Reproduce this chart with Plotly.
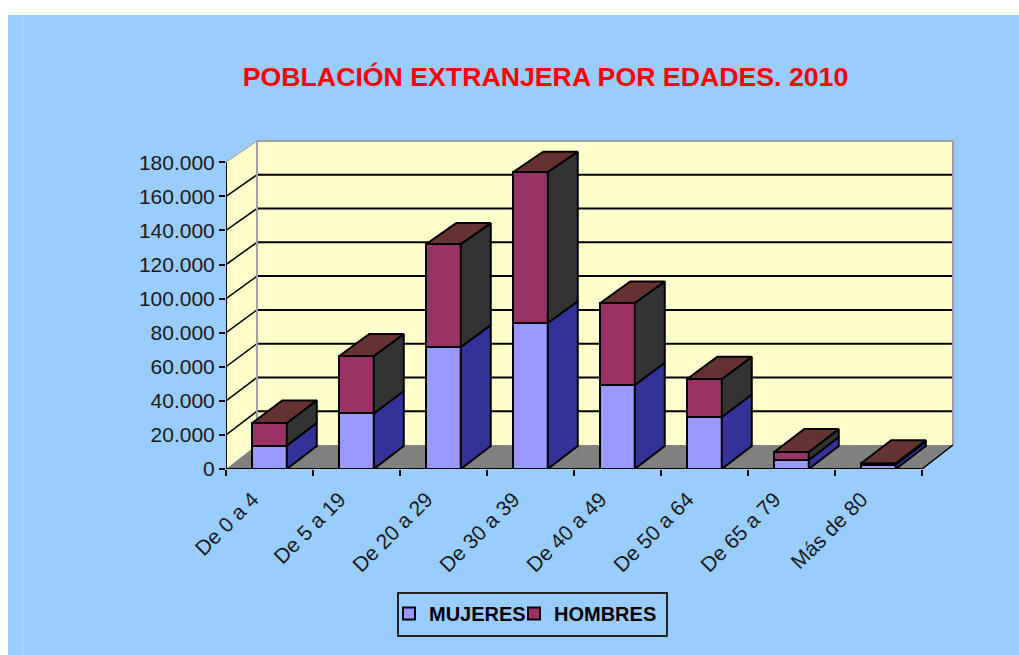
import plotly.graph_objects as go

categories = ["De 0 a 4", "De 5 a 19", "De 20 a 29", "De 30 a 39", "De 40 a 49", "De 50 a 64", "De 65 a 79", "Más de 80"]
mujeres = [13700, 32600, 71600, 85700, 49300, 30500, 5300, 2600]
hombres = [13300, 33700, 60400, 88600, 48100, 22300, 4700, 800]
y_ticks = [0, 20000, 40000, 60000, 80000, 100000, 120000, 140000, 160000, 180000]

W, H = 1019, 655
L, R, T, B = 226, 960, 130, 469
PX_X = 87.0
PX_Y = (469 - 162.3) / 180000
BACK = 304 / 306.7            # the back plane is drawn slightly smaller than the front one
wall_dx = 31 / PX_X
wall_dy = 24 / PX_Y
bar_dx = 30 / PX_X
bar_dy = 23 / PX_Y
bar_w = 34.5 / PX_X
n = len(categories)
xc = [i + 0.5 for i in range(n)]
x_max = (R - L) / PX_X
y_max = (B - T) / PX_Y
px = lambda v: (v - L) / (R - L)
py = lambda v: (B - v) / (B - T)

shapes = []
def poly(pts, fill, color="rgba(0,0,0,0)", width=0):
    d = "M " + " L ".join(f"{a},{b}" for a, b in pts) + " Z"
    shapes.append(dict(type="path", path=d, xref="x", yref="y", fillcolor=fill, layer="below",
                       line=dict(color=color, width=width)))
def seg(x0, y0, x1, y1, color="black", width=2):
    shapes.append(dict(type="line", x0=x0, y0=y0, x1=x1, y1=y1, xref="x", yref="y", layer="below",
                       line=dict(color=color, width=width)))

# page background
shapes.append(dict(type="rect", xref="paper", yref="paper", x0=px(8), x1=px(W + 2), y0=py(H + 2), y1=py(15),
                   fillcolor="#99CCFF", line_width=0, layer="below"))
shapes.append(dict(type="line", xref="paper", yref="paper", x0=px(23.5), x1=px(23.5), y0=py(H), y1=py(15),
                   line=dict(color="#A6D2FF", width=1), layer="below"))
top = y_ticks[-1]
back_y = lambda v: v * BACK + wall_dy
# walls and floor
poly([(wall_dx, wall_dy), (wall_dx + n, wall_dy), (wall_dx + n, back_y(top)), (wall_dx, back_y(top))], "#FFFFCC")
poly([(0, 0), (wall_dx, wall_dy), (wall_dx, back_y(top)), (0, top)], "#FFFFCC")
poly([(0, 0), (wall_dx, wall_dy), (wall_dx + n, wall_dy), (n, 0)], "#808080")
# grid
for t in y_ticks[1:-1]:
    seg(0, t, wall_dx, back_y(t), "black", 1.5)
    seg(wall_dx, back_y(t), wall_dx + n, back_y(t))
# wall borders
seg(wall_dx, wall_dy, wall_dx, back_y(top), "#A0A0A0", 2)
seg(wall_dx + n, wall_dy, wall_dx + n, back_y(top), "#A0A0A0", 2)
seg(wall_dx, back_y(top), wall_dx + n, back_y(top), "#A0A0A0", 2)
seg(0, top, wall_dx, back_y(top), "#A0A0A0", 1)
# front axes
seg(0, 0, 0, top, "black", 2)
seg(0, 0, n, 0, "black", 2)
seg(n, 0, wall_dx + n, wall_dy, "black", 1.5)
# legend frame
shapes.append(dict(type="rect", xref="paper", yref="paper", x0=px(398), x1=px(667), y0=py(636), y1=py(593),
                   fillcolor="rgba(0,0,0,0)", line=dict(color="#222222", width=2), layer="below"))

fig = go.Figure()
edge = dict(color="black", width=2)
fig.add_bar(x=xc, y=mujeres, name="MUJERES", width=bar_w, marker=dict(color="#9999FF", line=edge), legend="legend")
fig.add_bar(x=xc, y=hombres, name="HOMBRES", width=bar_w, marker=dict(color="#993366", line=edge), legend="legend2")

def face(xs, ys, fill):
    fig.add_scatter(x=xs, y=ys, mode="lines", fill="toself", fillcolor=fill, showlegend=False, hoverinfo="skip",
                    line=dict(color="black", width=2))

by = lambda v: v * BACK + bar_dy
for x, m, h in zip(xc, mujeres, hombres):
    x0, x1 = x - bar_w / 2, x + bar_w / 2
    face([x1, x1 + bar_dx, x1 + bar_dx, x1, x1], [0, by(0), by(m), m, 0], "#333399")
    face([x1, x1 + bar_dx, x1 + bar_dx, x1, x1], [m, by(m), by(m + h), m + h, m], "#333333")
    t = m + h
    face([x0, x0 + bar_dx, x1 + bar_dx, x1, x0], [t, by(t), by(t), t, t], "#663333")

font = "Liberation Sans, Arial, sans-serif"
legend_common = dict(orientation="h", xanchor="left", yanchor="top", bgcolor="rgba(0,0,0,0)", borderwidth=0,
                     font=dict(size=20, family="Liberation Sans, Arial", weight="bold"))
fig.update_layout(
    width=W, height=H, margin=dict(l=L, r=W - R, t=T, b=H - B, autoexpand=False),
    paper_bgcolor="white", plot_bgcolor="rgba(0,0,0,0)",
    barmode="stack", separators=",.", shapes=shapes,
    font=dict(family=font, color="black", size=21),
    title=dict(text="<b>POBLACIÓN EXTRANJERA POR EDADES. 2010</b>", x=545.5 / W, y=1 - 77 / H,
               xanchor="center", yanchor="middle", font=dict(size=26.7, color="#FF0000", family=font)),
    xaxis=dict(range=[0, x_max], tickvals=xc, ticktext=categories, tickangle=-45, ticks="", ticklen=0,
               ticklabelstandoff=13, ticklabelshift=-17,
               showgrid=False, zeroline=False, showline=False, tickfont=dict(size=21, color="#1a1a1a"),
               minor=dict(tickvals=list(range(n + 1)), ticks="outside", ticklen=6, tickwidth=2, tickcolor="black", showgrid=False)),
    yaxis=dict(range=[0, y_max], tickvals=y_ticks, tickformat=",d", ticks="outside", ticklen=6, tickwidth=2,
               tickcolor="black", showgrid=False, zeroline=False, showline=False, tickfont=dict(size=21, color="#1a1a1a")),
    legend=dict(x=px(389), y=py(594), **legend_common),
    legend2=dict(x=px(514), y=py(594), **legend_common),
)
fig.write_html("out.html", config=dict(displayModeBar=False),
               post_script="document.body.style.margin='0';document.body.style.overflow='hidden';")
